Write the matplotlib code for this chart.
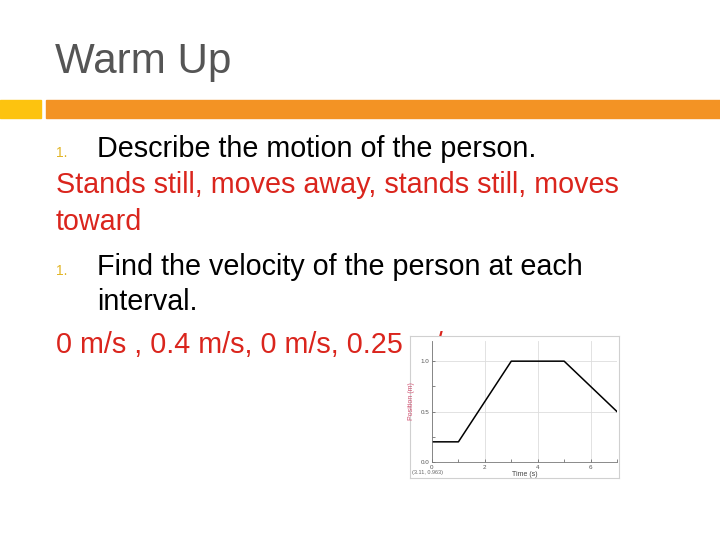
import matplotlib
matplotlib.use("Agg")
from matplotlib import pyplot as plt
from matplotlib.patches import Rectangle
from matplotlib.ticker import MultipleLocator

# slide text
title = "Warm Up"
q1 = "Describe the motion of the person."
a1_lines = ["Stands still, moves away, stands still, moves", "toward"]
q2_lines = ["Find the velocity of the person at each", "interval."]
a2 = "0 m/s , 0.4 m/s, 0 m/s, 0.25 m/s"

# position-time data
time_s = [0, 1, 3, 5, 7]
position_m = [0.2, 0.2, 1.0, 1.0, 0.5]
x_ticks = [0, 2, 4, 6]
y_ticks = [0.0, 0.5, 1.0]
y_tick_labels = ["0.0", "0.5", "1.0"]
cursor_text = "(3.11, 0.963)"

plt.rcParams['font.family'] = ['Liberation Sans', 'DejaVu Sans']

W, H = 720, 540
fig = plt.figure(figsize=(7.2, 5.4), dpi=100)

def px(x, y):
    #convert pixel coords (top-left origin) to figure fraction
    return x / W, 1 - y / H

red = '#DA251D'
gold = '#E2B526'
body_size = 20.7

#title and bars
fig.text(*px(55, 73), title, fontsize=30.3, color='#555555', va='baseline')
fig.patches.append(Rectangle(px(0, 118), 41 / W, 18 / H, color='#FDC30F',
                             transform=fig.transFigure, figure=fig))
fig.patches.append(Rectangle(px(46, 118), (W - 46) / W, 18 / H, color='#F39324',
                             transform=fig.transFigure, figure=fig))

#body text
fig.text(*px(56, 157), "1.", fontsize=10, color=gold, va='baseline')
fig.text(*px(97, 157), q1, fontsize=body_size, color='black', va='baseline')
fig.text(*px(56, 193), a1_lines[0], fontsize=body_size, color=red, va='baseline')
fig.text(*px(56, 230), a1_lines[1], fontsize=body_size, color=red, va='baseline')
fig.text(*px(56, 275), "1.", fontsize=10, color=gold, va='baseline')
fig.text(*px(97, 275), q2_lines[0], fontsize=body_size, color='black', va='baseline')
fig.text(*px(97, 310), q2_lines[1], fontsize=body_size, color='black', va='baseline')
fig.text(*px(56, 353), a2, fontsize=body_size, color=red, va='baseline')

#white frame for the embedded graph, drawn on top of the text
frame = fig.add_axes([410 / W, 1 - 478 / H, 209 / W, 142 / H], zorder=5)
frame.set_xticks([])
frame.set_yticks([])
frame.set_facecolor('white')
for s in frame.spines.values():
    s.set_color('#d0d0d0')
    s.set_linewidth(0.8)
frame.text(0.01, 0.02, cursor_text, transform=frame.transAxes, fontsize=4,
           color='#666666', va='bottom', ha='left')

ax = fig.add_axes([432 / W, 1 - 462 / H, 185 / W, 121 / H], zorder=6)
ax.set_facecolor('none')
ax.plot(time_s, position_m, color='black', linewidth=1.1)
ax.set_xlim(0, 7)
ax.set_ylim(0, 1.2)
ax.set_xticks(x_ticks)
ax.set_yticks(y_ticks)
ax.set_yticklabels(y_tick_labels)
ax.xaxis.set_minor_locator(MultipleLocator(1))
ax.yaxis.set_minor_locator(MultipleLocator(0.25))
ax.tick_params(which='both', direction='in', length=2.5, width=0.5,
               colors='#555555', labelsize=4.5, pad=2)
ax.grid(True, which='major', color='#dddddd', linewidth=0.6)
ax.spines['top'].set_visible(False)
ax.spines['right'].set_visible(False)
ax.spines['left'].set_color('#777777')
ax.spines['bottom'].set_color('#777777')
ax.spines['left'].set_linewidth(0.6)
ax.spines['bottom'].set_linewidth(0.6)
ax.set_xlabel("Time (s)", fontsize=5, color='#444444', labelpad=1)
ax.set_ylabel("Position (m)", fontsize=5, color='#D05070', labelpad=4)

fig.savefig("out.png", dpi=100)
